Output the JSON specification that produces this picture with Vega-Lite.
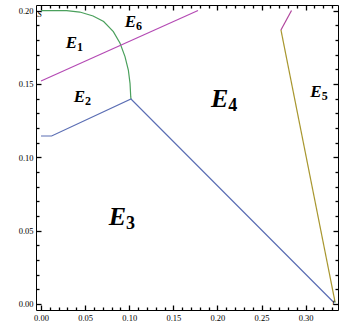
{
  "$schema": "https://vega.github.io/schema/vega-lite/v6.json",
  "width": 302,
  "height": 305,
  "autosize": "none",
  "padding": {"left": 36, "top": 5, "right": 2, "bottom": 16},
  "background": "white",
  "config": {"view": {"stroke": "black", "strokeWidth": 1}, "axis": {"zindex": 1}},
  "datasets": {
    "lines": [
      {"series": "green", "order": 0, "x": 0.0, "y": 0.2},
      {"series": "green", "order": 1, "x": 0.029, "y": 0.1999},
      {"series": "green", "order": 2, "x": 0.044, "y": 0.199},
      {"series": "green", "order": 3, "x": 0.059, "y": 0.1963},
      {"series": "green", "order": 4, "x": 0.071, "y": 0.1925},
      {"series": "green", "order": 5, "x": 0.082, "y": 0.1856},
      {"series": "green", "order": 6, "x": 0.0896, "y": 0.1777},
      {"series": "green", "order": 7, "x": 0.0952, "y": 0.1686},
      {"series": "green", "order": 8, "x": 0.099, "y": 0.1595},
      {"series": "green", "order": 9, "x": 0.1009, "y": 0.1504},
      {"series": "green", "order": 10, "x": 0.1017, "y": 0.1413},
      {"series": "green", "order": 11, "x": 0.102, "y": 0.1397},
      {"series": "purple", "order": 0, "x": 0.0, "y": 0.152},
      {"series": "purple", "order": 1, "x": 0.178, "y": 0.2},
      {"series": "blue", "order": 0, "x": 0.0, "y": 0.1145},
      {"series": "blue", "order": 1, "x": 0.012, "y": 0.1145},
      {"series": "blue", "order": 2, "x": 0.102, "y": 0.1397},
      {"series": "blue", "order": 3, "x": 0.332, "y": 0.001},
      {"series": "olive", "order": 0, "x": 0.272, "y": 0.1868},
      {"series": "olive", "order": 1, "x": 0.3335, "y": 0.001},
      {"series": "magenta", "order": 0, "x": 0.272, "y": 0.1868},
      {"series": "magenta", "order": 1, "x": 0.284, "y": 0.2}
    ],
    "labels": [
      {"main": "E", "sub": "1", "big": false, "x": 0.0408, "y": 0.1745},
      {"main": "E", "sub": "6", "big": false, "x": 0.1077, "y": 0.189},
      {"main": "E", "sub": "2", "big": false, "x": 0.0499, "y": 0.1379},
      {"main": "E", "sub": "4", "big": true, "x": 0.2124, "y": 0.1341},
      {"main": "E", "sub": "5", "big": false, "x": 0.3182, "y": 0.1409},
      {"main": "E", "sub": "3", "big": true, "x": 0.0964, "y": 0.0539}
    ],
    "points": [
      {"name": "S", "x": -0.0017, "y": 0.1974},
      {"name": "t", "x": 0.332, "y": 0.0012}
    ]
  },
  "resolve": {"axis": {"x": "independent", "y": "independent"}},
  "layer": [
    {
      "data": {"name": "lines"},
      "mark": {"type": "line", "strokeWidth": 1.2},
      "encoding": {
        "x": {
          "field": "x", "type": "quantitative",
          "scale": {"domain": [-0.0057, 0.3367], "nice": false, "zero": false},
          "axis": {
            "orient": "bottom", "title": null, "grid": false, "domain": false, "offset": -5,
            "values": [0, 0.05, 0.1, 0.15, 0.2, 0.25, 0.3],
            "format": ".2f", "tickSize": 5, "labelPadding": 3,
            "labelFont": "Liberation Serif", "labelFontSize": 8.5, "labelColor": "black",
            "tickColor": "black", "tickWidth": 1.3, "labelFlush": false, "labelOverlap": false
          }
        },
        "y": {
          "field": "y", "type": "quantitative",
          "scale": {"domain": [-0.0041, 0.2038], "nice": false, "zero": false},
          "axis": {
            "orient": "left", "title": null, "grid": false, "domain": false, "offset": -5,
            "values": [0, 0.05, 0.1, 0.15, 0.2],
            "format": ".2f", "tickSize": 5, "labelPadding": 3,
            "labelFont": "Liberation Serif", "labelFontSize": 8.5, "labelColor": "black",
            "tickColor": "black", "tickWidth": 1.3, "labelFlush": false, "labelOverlap": false
          }
        },
        "order": {"field": "order", "type": "quantitative"},
        "color": {
          "field": "series", "type": "nominal", "legend": null,
          "scale": {
            "domain": ["green", "purple", "blue", "olive", "magenta"],
            "range": ["#4aa05c", "#b44ab4", "#5b6eb4", "#a8962e", "#b0449c"]
          }
        }
      }
    },
    {
      "data": {"name": "lines"},
      "mark": {"type": "point", "opacity": 0},
      "encoding": {
        "x": {
          "field": "x", "type": "quantitative",
          "axis": {
            "orient": "bottom", "title": null, "grid": false, "labels": false, "domain": false, "offset": -3,
            "values": [0.01,0.02,0.03,0.04,0.06,0.07,0.08,0.09,0.11,0.12,0.13,0.14,0.16,0.17,0.18,0.19,0.21,0.22,0.23,0.24,0.26,0.27,0.28,0.29,0.31,0.32,0.33],
            "tickSize": 3, "tickColor": "black", "tickWidth": 1.3
          }
        },
        "y": {
          "field": "y", "type": "quantitative",
          "axis": {
            "orient": "left", "title": null, "grid": false, "labels": false, "domain": false, "offset": -3,
            "values": [0.01,0.02,0.03,0.04,0.06,0.07,0.08,0.09,0.11,0.12,0.13,0.14,0.16,0.17,0.18,0.19],
            "tickSize": 3, "tickColor": "black", "tickWidth": 1.3
          }
        }
      }
    },
    {
      "data": {"name": "lines"},
      "mark": {"type": "point", "opacity": 0},
      "encoding": {
        "x": {
          "field": "x", "type": "quantitative",
          "axis": {
            "orient": "top", "title": null, "grid": false, "labels": false, "domain": false, "offset": -5,
            "values": [0, 0.05, 0.1, 0.15, 0.2, 0.25, 0.3],
            "tickSize": 5, "tickColor": "black", "tickWidth": 1.3
          }
        },
        "y": {
          "field": "y", "type": "quantitative",
          "axis": {
            "orient": "right", "title": null, "grid": false, "labels": false, "domain": false, "offset": -5,
            "values": [0, 0.05, 0.1, 0.15, 0.2],
            "tickSize": 5, "tickColor": "black", "tickWidth": 1.3
          }
        }
      }
    },
    {
      "data": {"name": "lines"},
      "mark": {"type": "point", "opacity": 0},
      "encoding": {
        "x": {
          "field": "x", "type": "quantitative",
          "axis": {
            "orient": "top", "title": null, "grid": false, "labels": false, "domain": false, "offset": -3,
            "values": [0.01,0.02,0.03,0.04,0.06,0.07,0.08,0.09,0.11,0.12,0.13,0.14,0.16,0.17,0.18,0.19,0.21,0.22,0.23,0.24,0.26,0.27,0.28,0.29,0.31,0.32,0.33],
            "tickSize": 3, "tickColor": "black", "tickWidth": 1.3
          }
        },
        "y": {
          "field": "y", "type": "quantitative",
          "axis": {
            "orient": "right", "title": null, "grid": false, "labels": false, "domain": false, "offset": -3,
            "values": [0.01,0.02,0.03,0.04,0.06,0.07,0.08,0.09,0.11,0.12,0.13,0.14,0.16,0.17,0.18,0.19],
            "tickSize": 3, "tickColor": "black", "tickWidth": 1.3
          }
        }
      }
    },
    {
      "data": {"name": "labels"},
      "transform": [{"filter": "!datum.big"}],
      "mark": {"type": "text", "align": "right", "baseline": "alphabetic", "font": "Liberation Serif", "fontSize": 17, "fontStyle": "italic", "fontWeight": "bold", "color": "black"},
      "encoding": {
        "x": {"field": "x", "type": "quantitative", "axis": null},
        "y": {"field": "y", "type": "quantitative", "axis": null},
        "text": {"field": "main"}
      }
    },
    {
      "data": {"name": "labels"},
      "transform": [{"filter": "!datum.big"}],
      "mark": {"type": "text", "align": "left", "baseline": "alphabetic", "dy": 3, "font": "Liberation Serif", "fontSize": 12, "fontWeight": "bold", "color": "black"},
      "encoding": {
        "x": {"field": "x", "type": "quantitative", "axis": null},
        "y": {"field": "y", "type": "quantitative", "axis": null},
        "text": {"field": "sub"}
      }
    },
    {
      "data": {"name": "labels"},
      "transform": [{"filter": "datum.big"}],
      "mark": {"type": "text", "align": "right", "baseline": "alphabetic", "font": "Liberation Serif", "fontSize": 26, "fontStyle": "italic", "fontWeight": "bold", "color": "black"},
      "encoding": {
        "x": {"field": "x", "type": "quantitative", "axis": null},
        "y": {"field": "y", "type": "quantitative", "axis": null},
        "text": {"field": "main"}
      }
    },
    {
      "data": {"name": "labels"},
      "transform": [{"filter": "datum.big"}],
      "mark": {"type": "text", "align": "left", "baseline": "alphabetic", "dy": 4, "font": "Liberation Serif", "fontSize": 18, "fontWeight": "bold", "color": "black"},
      "encoding": {
        "x": {"field": "x", "type": "quantitative", "axis": null},
        "y": {"field": "y", "type": "quantitative", "axis": null},
        "text": {"field": "sub"}
      }
    },
    {
      "data": {"name": "points"},
      "mark": {"type": "text", "align": "center", "baseline": "middle", "font": "Liberation Serif", "fontSize": 9, "fontStyle": "italic", "color": "black"},
      "encoding": {
        "x": {"field": "x", "type": "quantitative", "axis": null},
        "y": {"field": "y", "type": "quantitative", "axis": null},
        "text": {"field": "name"}
      }
    }
  ]
}
